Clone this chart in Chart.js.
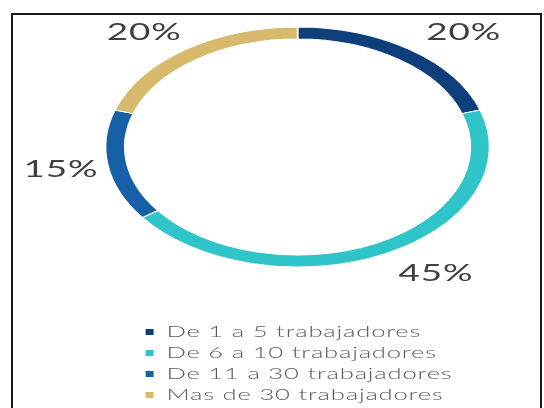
<!DOCTYPE html>
<html lang="es">
<head>
<meta charset="utf-8">
<title>Empresas según número de trabajadores</title>
<script src="https://cdn.jsdelivr.net/npm/chart.js@4.4.1/dist/chart.umd.min.js"></script>
<style>
  html, body { margin: 0; padding: 0; background: #fff; }
  .wrap { position: relative; width: 544px; height: 408px; overflow: hidden; }
  .marco { position: absolute; left: 11px; top: 13px; width: 531px; height: 430px;
           border: 2px solid #1b1b1b; box-sizing: border-box; }
  canvas { position: absolute; left: 0; top: 0; }
</style>
</head>
<body>
<div class="wrap">
  <div class="marco"></div>
  <canvas id="grafico"></canvas>
</div>
<script>
/* --- Datos --- */
const categorias = ['De 1 a 5 trabajadores', 'De 6 a 10 trabajadores', 'De 11 a 30 trabajadores', 'Mas de 30 trabajadores'];
const porcentajes = [20, 45, 15, 20];
const colores = ['#0e3f7b', '#2fc4c7', '#1660a8', '#d7ba6c'];

/* --- Estilo --- */
const FUENTE = 'Lato, "Liberation Sans", sans-serif';
const ESTIRAR_X = 1.6;   // el gráfico se dibuja ensanchado en horizontal

Chart.defaults.font.family = FUENTE;
Chart.defaults.font.weight = '300';

/* ensancha todo el dibujo (anillo, textos y leyenda) */
const estirar = {
  id: 'estirar',
  beforeDraw(chart) {
    const ctx = chart.ctx;
    ctx.save();
    ctx.scale(ESTIRAR_X, 1);
    ctx.letterSpacing = '0.5px';
  },
  afterDraw(chart) {
    chart.ctx.restore();
  }
};

/* porcentajes fuera del anillo, en el ángulo medio de cada sector */
const etiquetasPorcentaje = {
  id: 'etiquetasPorcentaje',
  afterDatasetsDraw(chart) {
    const { ctx } = chart;
    const meta = chart.getDatasetMeta(0);
    ctx.save();
    ctx.font = '400 23px ' + FUENTE;
    ctx.letterSpacing = '0.6px';
    ctx.fillStyle = '#3f3f3f';
    ctx.textBaseline = 'middle';
    meta.data.forEach((arco, i) => {
      const { x, y, startAngle, endAngle, outerRadius } =
        arco.getProps(['x', 'y', 'startAngle', 'endAngle', 'outerRadius'], true);
      const medio = (startAngle + endAngle) / 2;
      const c = Math.cos(medio), s = Math.sin(medio);
      ctx.textAlign = c >= 0 ? 'left' : 'right';
      ctx.fillText(porcentajes[i] + '%', x + 4 + c * (outerRadius + 10), y + s * (outerRadius + 22));
    });
    ctx.restore();
  }
};

const chart = new Chart(document.getElementById('grafico'), {
  type: 'doughnut',
  data: {
    labels: categorias,
    datasets: [{
      data: porcentajes,
      backgroundColor: colores,
      borderColor: '#ffffff',
      borderWidth: 1,
      radius: 120,
      cutout: '90%',
      clip: false
    }]
  },
  options: {
    responsive: true,
    maintainAspectRatio: false,
    devicePixelRatio: 1,
    animation: false,
    layout: { padding: { left: 86, right: 258, top: 0, bottom: -5 } },
    plugins: {
      tooltip: { enabled: false },
      legend: {
        position: 'bottom',
        align: 'start',
        fullSize: false,
        // título vacío: separa la leyenda del anillo
        title: { display: true, text: '', font: { size: 10, lineHeight: 1 }, padding: { top: 15, bottom: 0 } },
        labels: {
          color: '#5a5a5a',
          font: { size: 16 },
          boxWidth: 5,
          boxHeight: 6,
          padding: 5,
          generateLabels: (ch) =>
            Chart.overrides.doughnut.plugins.legend.labels.generateLabels(ch)
              .map(item => Object.assign(item, { lineWidth: 0 }))
        }
      }
    }
  },
  plugins: [estirar, etiquetasPorcentaje]
});
</script>
</body>
</html>
